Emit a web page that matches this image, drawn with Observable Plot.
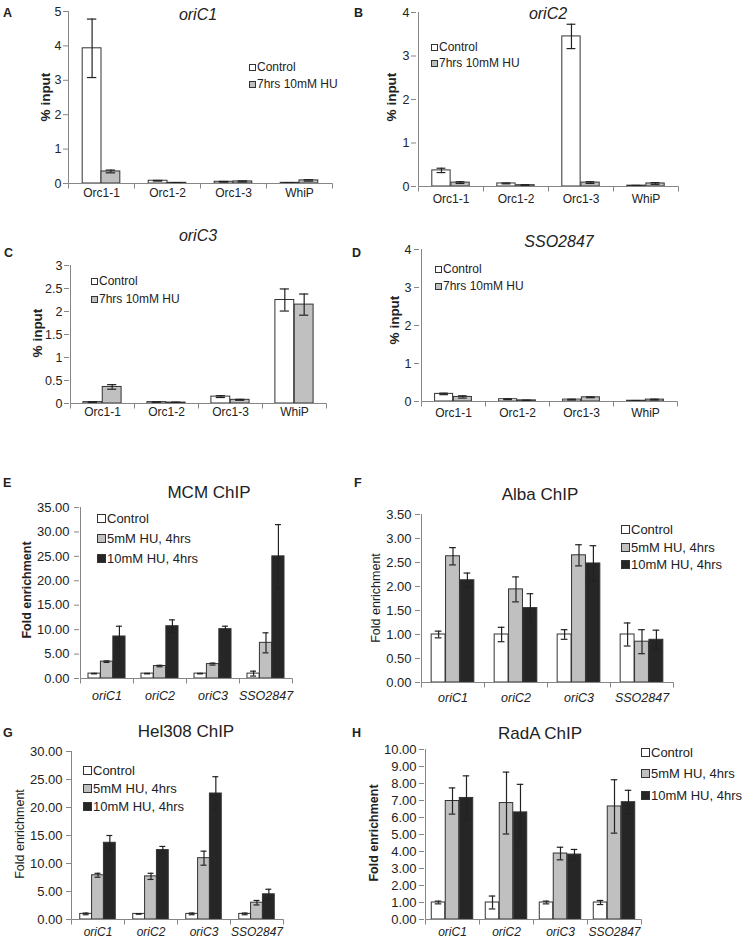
<!DOCTYPE html>
<html><head><meta charset="utf-8">
<script src="https://cdn.jsdelivr.net/npm/d3@7"></script>
<script src="https://cdn.jsdelivr.net/npm/@observablehq/plot@0.6"></script>
<style>
body{margin:0;background:#fff;font-family:"Liberation Sans",Arial,sans-serif;color:#222}
#fig{position:relative;width:753px;height:940px;overflow:hidden;background:#fff}
.abs{position:absolute;white-space:nowrap}
.letter{font-weight:bold;font-size:12.5px;line-height:14px}
.ctr{transform:translate(-50%,-50%)}
.ylab{transform:translate(-50%,-50%) rotate(-90deg)}
.leg{display:flex;align-items:center}
.sw{display:inline-block;box-sizing:border-box;border:1px solid #333;margin-right:1px}
.plotbox{position:absolute}
.plotbox svg{overflow:visible}
.italx g[aria-label="x-axis tick label"]{font-style:italic}
</style></head>
<body><div id="fig"></div>
<script>
// ---------- categories ----------
const orcSites = ["Orc1-1", "Orc1-2", "Orc1-3", "WhiP"];
const originSites = ["oriC1", "oriC2", "oriC3", "SSO2847"];
const huLabels = ["Control", "7hrs 10mM HU"];
const chipLabels = ["Control", "5mM HU, 4hrs", "10mM HU, 4hrs"];

// ---------- tick labels ----------
const ticksA = [0, 1, 2, 3, 4, 5];
const ticksB = [0, 1, 2, 3, 4];
const ticksC = [0, 0.5, 1, 1.5, 2, 2.5, 3];
const ticksD = [0, 1, 2, 3, 4];
const ticksE = [0, 5, 10, 15, 20, 25, 30, 35];
const ticksF = [0, 0.5, 1, 1.5, 2, 2.5, 3, 3.5];
const ticksG = [0, 5, 10, 15, 20, 25, 30];
const ticksH = [0, 1, 2, 3, 4, 5, 6, 7, 8, 9, 10];

// ---------- values (% input) ----------
const oriC1Control = [3.93, 0.08, 0.05, 0.02];
const oriC1ControlErr = [0.85, 0.01, 0.01, 0.005];
const oriC1HU = [0.35, 0.02, 0.06, 0.09];
const oriC1HUErr = [0.04, 0.005, 0.015, 0.02];

const oriC2Control = [0.37, 0.07, 3.45, 0.02];
const oriC2ControlErr = [0.05, 0.01, 0.28, 0.005];
const oriC2HU = [0.09, 0.03, 0.09, 0.07];
const oriC2HUErr = [0.02, 0.01, 0.02, 0.02];

const oriC3Control = [0.03, 0.03, 0.15, 2.25];
const oriC3ControlErr = [0.005, 0.005, 0.02, 0.24];
const oriC3HU = [0.36, 0.02, 0.08, 2.15];
const oriC3HUErr = [0.05, 0.01, 0.01, 0.23];

const ssoControl = [0.20, 0.06, 0.05, 0.02];
const ssoControlErr = [0.02, 0.01, 0.01, 0.005];
const ssoHU = [0.12, 0.03, 0.11, 0.05];
const ssoHUErr = [0.03, 0.005, 0.01, 0.01];

// ---------- values (fold enrichment) ----------
const mcmControl = [1.0, 1.0, 1.0, 1.0];
const mcmControlErr = [0.05, 0.05, 0.05, 0.5];
const mcm5 = [3.45, 2.55, 2.95, 7.3];
const mcm5Err = [0.15, 0.15, 0.2, 2.05];
const mcm10 = [8.6, 10.7, 10.1, 25.0];
const mcm10Err = [2.1, 1.3, 0.6, 6.5];

const albaControl = [1.0, 1.0, 1.0, 1.0];
const albaControlErr = [0.07, 0.15, 0.1, 0.24];
const alba5 = [2.63, 1.94, 2.65, 0.85];
const alba5Err = [0.18, 0.26, 0.22, 0.25];
const alba10 = [2.13, 1.55, 2.48, 0.89];
const alba10Err = [0.15, 0.3, 0.37, 0.2];

const helControl = [1.0, 1.0, 1.0, 1.0];
const helControlErr = [0.15, 0.05, 0.15, 0.15];
const hel5 = [7.9, 7.7, 10.95, 3.0];
const hel5Err = [0.35, 0.55, 1.25, 0.4];
const hel10 = [13.7, 12.4, 22.5, 4.5];
const hel10Err = [1.3, 0.65, 3.0, 0.9];

const radaControl = [1.0, 1.0, 1.0, 1.0];
const radaControlErr = [0.08, 0.38, 0.08, 0.12];
const rada5 = [6.97, 6.85, 3.88, 6.65];
const rada5Err = [0.77, 1.82, 0.37, 1.57];
const rada10 = [7.15, 6.3, 3.82, 6.9];
const rada10Err = [1.3, 1.65, 0.3, 0.7];

// ---------- styling ----------
const fills = ["#ffffff", "#c0c0c0", "#262626"];
const axisGray = "#868686";
const FONT = "Liberation Sans, Arial, sans-serif";
const fig = document.getElementById("fig");

function addText(txt, x, y, cls, style) {
  const d = document.createElement("div");
  d.className = "abs " + cls;
  d.textContent = txt;
  d.style.left = x + "px"; d.style.top = y + "px";
  Object.assign(d.style, style || {});
  fig.appendChild(d);
  return d;
}

function addLegend(labels, x, rows, sw, fs) {
  labels.forEach((lab, i) => {
    const row = document.createElement("div");
    row.className = "abs leg";
    row.style.left = x + "px";
    row.style.top = (rows[i] - 8) + "px";
    row.style.height = "16px";
    row.style.fontSize = fs + "px";
    const s = document.createElement("span");
    s.className = "sw";
    s.style.width = sw + "px"; s.style.height = sw + "px";
    s.style.background = fills[i];
    row.appendChild(s);
    const t = document.createElement("span");
    t.textContent = lab;
    row.appendChild(t);
    fig.appendChild(row);
  });
}

const axisFrame = (groups, yMax) => (index, scales) => {
  const {x, y} = scales;
  const g = d3.create("svg:g").attr("stroke", axisGray).attr("fill", "none").attr("stroke-width", 1);
  const x0 = Math.round(x(groups[0])) + 0.5;
  const x1 = Math.round(x(groups[groups.length - 1]) + x.bandwidth()) + 0.5;
  const y0 = Math.round(y(0)) + 0.5;
  g.append("line").attr("x1", x0).attr("x2", x0).attr("y1", y(yMax)).attr("y2", y0);
  g.append("line").attr("x1", x0).attr("x2", x1).attr("y1", y0).attr("y2", y0);
  const edges = groups.map((gg) => Math.round(x(gg)) + 0.5).concat([x1]);
  for (const e of edges) g.append("line").attr("x1", e).attr("x2", e).attr("y1", y0).attr("y2", y0 + 5);
  return g.node();
};

function panel(p) {
  const n = p.series.length;
  const W = (p.width - p.mL - p.mR) / p.groups.length;
  const used = W * p.frac, bw = used / n, off0 = (W - used) / 2;
  const marks = [];
  p.series.forEach((s, i) => {
    const rows = p.groups.map((g, j) => ({g, v: s.values[j], e: s.err[j]}));
    const left = off0 + i * bw, right = W - left - bw;
    marks.push(Plot.barY(rows, {x: "g", y: "v", fill: fills[i], stroke: "#333", strokeWidth: 1, insetLeft: left, insetRight: right}));
    const dx = left + bw / 2 - W / 2;
    marks.push(Plot.ruleX(rows, {x: "g", y1: (d) => d.v - d.e, y2: (d) => d.v + d.e, dx, stroke: "#222", strokeWidth: 1.2}));
    const capL = left + bw * 0.25, capR = right + bw * 0.25;
    marks.push(Plot.tickY(rows, {x: "g", y: (d) => d.v + d.e, insetLeft: capL, insetRight: capR, stroke: "#222", strokeWidth: 1.2}));
    marks.push(Plot.tickY(rows, {x: "g", y: (d) => d.v - d.e, insetLeft: capL, insetRight: capR, stroke: "#222", strokeWidth: 1.2}));
  });
  marks.push(axisFrame(p.groups, p.yMax));
  marks.push(Plot.axisY({ticks: p.ticks, tickSize: 5, tickPadding: p.tickPad, tickFormat: p.fmt, stroke: axisGray, fill: "#222", fontSize: p.tickFont, label: null}));
  marks.push(Plot.axisX({tickSize: 0, tickPadding: p.xPad, fill: "#222", fontSize: p.xFont, fontStyle: p.italic ? "italic" : "normal", label: null}));
  const svg = Plot.plot({
    width: p.width, height: p.height,
    marginLeft: p.mL, marginTop: p.mT, marginRight: p.mR, marginBottom: p.mB,
    style: {fontFamily: FONT, background: "transparent", overflow: "visible"},
    x: {domain: p.groups, paddingInner: 0, paddingOuter: 0, axis: null},
    y: {domain: [0, p.yMax], axis: null},
    marks
  });
  const box = document.createElement("div");
  box.className = "plotbox" + (p.italic ? " italx" : "");
  box.style.left = p.left + "px"; box.style.top = p.top + "px";
  box.appendChild(svg);
  fig.appendChild(box);
}

const intFmt = (d) => String(d);
const halfFmt = (d) => String(d);
const fixed2 = (d) => d.toFixed(2);

// ---------- Panels A-D ----------
panel({left: 0, top: 0, width: 340, height: 205, mL: 68, mT: 11, mR: 8, mB: 22, yMax: 5, ticks: ticksA, fmt: intFmt,
  tickPad: 2, tickFont: 12.5, xFont: 12, xPad: 5, frac: 0.57, groups: orcSites,
  series: [{values: oriC1Control, err: oriC1ControlErr}, {values: oriC1HU, err: oriC1HUErr}]});
panel({left: 376, top: 0, width: 311, height: 206, mL: 40, mT: 12, mR: 8, mB: 20, yMax: 4, ticks: ticksB, fmt: intFmt,
  tickPad: 2, tickFont: 12.5, xFont: 12, xPad: 8, frac: 0.58, groups: orcSites,
  series: [{values: oriC2Control, err: oriC2ControlErr}, {values: oriC2HU, err: oriC2HUErr}]});
panel({left: 0, top: 255, width: 335, height: 170, mL: 69, mT: 10, mR: 8, mB: 22, yMax: 3, ticks: ticksC, fmt: halfFmt,
  tickPad: 2, tickFont: 12.5, xFont: 12, xPad: 4, frac: 0.6, groups: orcSites,
  series: [{values: oriC3Control, err: oriC3ControlErr}, {values: oriC3HU, err: oriC3HUErr}]});
panel({left: 376, top: 240, width: 310, height: 183, mL: 43, mT: 9, mR: 8, mB: 22, yMax: 4, ticks: ticksD, fmt: intFmt,
  tickPad: 3, tickFont: 12.5, xFont: 12, xPad: 7, frac: 0.58, groups: orcSites,
  series: [{values: ssoControl, err: ssoControlErr}, {values: ssoHU, err: ssoHUErr}]});

// ---------- Panels E-H ----------
panel({left: 0, top: 497, width: 300, height: 203, mL: 79, mT: 10, mR: 8, mB: 22, yMax: 35, ticks: ticksE, fmt: fixed2,
  tickPad: 5, tickFont: 13, xFont: 12.5, xPad: 13, italic: true, frac: 0.7, groups: originSites,
  series: [{values: mcmControl, err: mcmControlErr}, {values: mcm5, err: mcm5Err}, {values: mcm10, err: mcm10Err}]});
panel({left: 376, top: 504, width: 306, height: 200, mL: 44, mT: 10, mR: 8, mB: 22, yMax: 3.5, ticks: ticksF, fmt: fixed2,
  tickPad: 4, tickFont: 13, xFont: 12.5, xPad: 11, italic: true, frac: 0.68, groups: originSites,
  series: [{values: albaControl, err: albaControlErr}, {values: alba5, err: alba5Err}, {values: alba10, err: alba10Err}]});
panel({left: 0, top: 740, width: 291, height: 200, mL: 71, mT: 11, mR: 8, mB: 21, yMax: 30, ticks: ticksG, fmt: fixed2,
  tickPad: 4, tickFont: 13, xFont: 12, xPad: 8, italic: true, frac: 0.67, groups: originSites,
  series: [{values: helControl, err: helControlErr}, {values: hel5, err: hel5Err}, {values: hel10, err: hel10Err}]});
panel({left: 376, top: 739, width: 274, height: 201, mL: 48, mT: 10, mR: 8, mB: 21, yMax: 10, ticks: ticksH, fmt: fixed2,
  tickPad: 3, tickFont: 13, xFont: 12, xPad: 8, italic: true, frac: 0.77, groups: originSites,
  series: [{values: radaControl, err: radaControlErr}, {values: rada5, err: rada5Err}, {values: rada10, err: rada10Err}]});

// ---------- Panel letters ----------
[["A", 3, 6], ["B", 354, 6], ["C", 4, 246], ["D", 352, 246], ["E", 3, 476], ["F", 354, 476], ["G", 3, 726], ["H", 352, 726]]
  .forEach(([l, x, y]) => addText(l, x, y, "letter"));

// ---------- Titles ----------
const smallTitle = {fontSize: "16px", fontStyle: "italic"};
addText("oriC1", 198, 15, "ctr", smallTitle);
addText("oriC2", 548, 14, "ctr", smallTitle);
addText("oriC3", 198, 236, "ctr", smallTitle);
addText("SSO2847", 559, 242, "ctr", smallTitle);
const bigTitle = {fontSize: "17px"};
addText("MCM ChIP", 209, 493, "ctr", bigTitle);
addText("Alba ChIP", 540, 495, "ctr", bigTitle);
addText("Hel308 ChIP", 186, 732, "ctr", bigTitle);
addText("RadA ChIP", 540, 734, "ctr", bigTitle);

// ---------- Y labels ----------
const pctLab = {fontSize: "13.5px", fontWeight: "bold"};
addText("% input", 45, 97, "ylab", pctLab);
addText("% input", 391, 97, "ylab", pctLab);
addText("% input", 37, 333, "ylab", pctLab);
addText("% input", 394, 320, "ylab", pctLab);
addText("Fold enrichment", 27, 590, "ylab", {fontSize: "12.5px", fontWeight: "bold"});
addText("Fold enrichment", 376, 598, "ylab", {fontSize: "12.5px"});
addText("Fold enrichment", 20, 834, "ylab", {fontSize: "12.5px"});
addText("Fold enrichment", 374, 833, "ylab", {fontSize: "12.5px", fontWeight: "bold"});

// ---------- Legends ----------
addLegend(huLabels, 249, [67, 84], 7, 12);
addLegend(huLabels, 431, [47, 63], 7, 12);
addLegend(huLabels, 91, [281, 299], 7, 12);
addLegend(huLabels, 435, [269, 286], 7, 12);
addLegend(chipLabels, 97, [518, 538, 558], 9, 13);
addLegend(chipLabels, 621, [529, 547, 564], 9, 13);
addLegend(chipLabels, 83, [770, 788, 806], 9, 13);
addLegend(chipLabels, 641, [752, 773, 795], 9, 13);
</script></body></html>
